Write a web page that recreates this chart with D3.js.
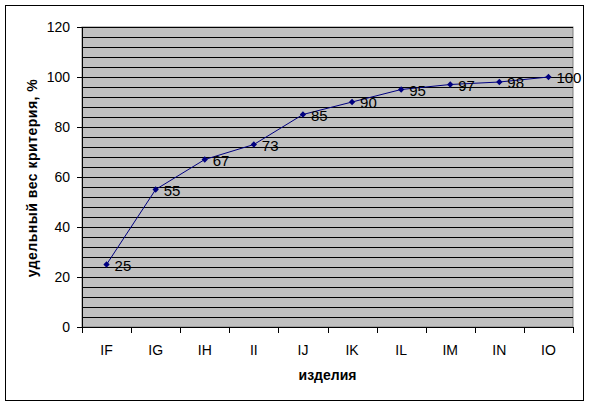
<!DOCTYPE html>
<html><head><meta charset="utf-8">
<script src="https://cdn.jsdelivr.net/npm/d3@7"></script>
<style>body{margin:0;background:#fff;font-family:Arial,"Liberation Sans",sans-serif;}</style>
</head><body>
<svg id="c" width="589" height="407"></svg>
<script>
const categories = ["IF","IG","IH","II","IJ","IK","IL","IM","IN","IO"];
const values = [25,55,67,73,85,90,95,97,98,100];
const yTicks = [0,20,40,60,80,100,120];
const gridStep = 4;

const svg = d3.select("#c");
const W = 589, H = 407;
const m = {left:82, right:16, top:27, bottom:80};
const pw = W - m.left - m.right, ph = H - m.top - m.bottom;

svg.append("rect").attr("x",5.5).attr("y",5.5).attr("width",578).attr("height",395)
  .attr("fill","#fff").attr("stroke","#000").attr("stroke-width",1);

const g = svg.append("g").attr("transform",`translate(${m.left},${m.top})`);
const x = d3.scaleBand().domain(categories).range([0,pw]).padding(0);
const y = d3.scaleLinear().domain([0,120]).range([ph,0]);

g.append("rect").attr("width",pw).attr("height",ph).attr("fill","#c0c0c0").attr("stroke","#808080");

const grid = d3.range(gridStep,120+0.001,gridStep);
g.selectAll(".gl").data(grid).join("line")
  .attr("x1",0).attr("x2",pw)
  .attr("y1",d=>Math.round(y(d))+0.5).attr("y2",d=>Math.round(y(d))+0.5)
  .attr("stroke","#000").attr("stroke-width",1);

const ya = g.append("g").call(d3.axisLeft(y).tickValues(yTicks).tickSize(5).tickSizeOuter(0));
ya.select(".domain").attr("stroke","#000");
ya.selectAll("text").attr("font-size",14).attr("font-family","Arial, 'Liberation Sans'").attr("fill","#000").attr("dx",-4);

const xa = g.append("g").attr("transform",`translate(0,${ph})`);
xa.append("line").attr("x1",0).attr("x2",pw).attr("y1",0.5).attr("y2",0.5).attr("stroke","#000");
const bounds = categories.map(c=>x(c)).concat([pw]);
xa.selectAll(".tk").data(bounds).join("line")
  .attr("x1",d=>Math.round(d)+0.5).attr("x2",d=>Math.round(d)+0.5).attr("y1",0).attr("y2",6).attr("stroke","#000");
xa.selectAll(".lb").data(categories).join("text")
  .attr("x",d=>x(d)+x.bandwidth()/2).attr("y",28).attr("text-anchor","middle")
  .attr("font-size",14).attr("fill","#000").text(d=>d);

const line = d3.line().x((d,i)=>x(categories[i])+x.bandwidth()/2).y(d=>y(d));
g.append("path").datum(values).attr("d",line).attr("fill","none").attr("stroke","#000080").attr("stroke-width",1);

g.selectAll(".mk").data(values).join("path")
  .attr("transform",(d,i)=>`translate(${x(categories[i])+x.bandwidth()/2},${y(d)})`)
  .attr("d",d3.symbol(d3.symbolSquare,20)).attr("transform",(d,i)=>`translate(${x(categories[i])+x.bandwidth()/2},${y(d)}) rotate(45)`)
  .attr("fill","#000080");

g.selectAll(".dl").data(values).join("text")
  .attr("x",(d,i)=>x(categories[i])+x.bandwidth()/2+8).attr("y",d=>y(d)+6)
  .attr("font-size",15).attr("fill","#000").text(d=>d);

svg.append("text").attr("x",m.left+pw/2).attr("y",380).attr("text-anchor","middle")
  .attr("font-size",14).attr("font-weight","bold").text("изделия");
svg.append("text").attr("transform",`translate(37,${m.top+ph/2+1}) rotate(-90)`).attr("text-anchor","middle")
  .attr("font-size",14).attr("font-weight","bold").attr("letter-spacing",0.5).text("удельный вес критерия, %");
</script>
</body></html>
